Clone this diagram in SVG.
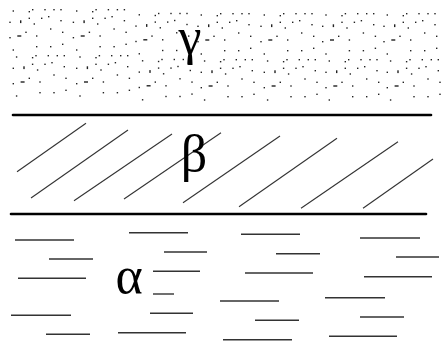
<svg xmlns="http://www.w3.org/2000/svg" xmlns:xlink="http://www.w3.org/1999/xlink" width="441" height="352" viewBox="0 0 441 352">
<style>
.d{fill:#222}
.bound{stroke:#000;stroke-width:2.6;stroke-linecap:round;fill:none}
.hatch{stroke:#333;stroke-width:1.1;fill:none}
.dash{stroke:#333;stroke-width:1.4;fill:none}
.lbl{font-family:"Liberation Serif","Times New Roman",serif;font-size:52px;fill:#000;text-anchor:middle}
</style>
<defs>
<g id="tile">
<rect class="d" x="12.6" y="10.3" width="1.4" height="1.4"/>
<rect class="d" x="28.6" y="11" width="1.4" height="1.4"/>
<rect class="d" x="32" y="9" width="1.4" height="1.4"/>
<rect class="d" x="44.3" y="9" width="1.4" height="1.4"/>
<rect class="d" x="53.3" y="9" width="1.4" height="1.4"/>
<rect class="d" x="60.3" y="9" width="1.4" height="1.4"/>
<rect class="d" x="9.3" y="21.6" width="1.4" height="1.4"/>
<rect class="d" x="20" y="20.3" width="1.4" height="2.8"/>
<rect class="d" x="28.6" y="17.6" width="1.4" height="1.4"/>
<rect class="d" x="33.6" y="23.3" width="1.4" height="1.4"/>
<rect class="d" x="41" y="17.6" width="1.4" height="1.4"/>
<rect class="d" x="48" y="16" width="1.4" height="1.4"/>
<rect class="d" x="60.3" y="20" width="1.4" height="1.4"/>
<rect class="d" x="50" y="28.3" width="1.4" height="1.4"/>
<rect class="d" x="9.3" y="37" width="1.4" height="1.4"/>
<rect class="d" x="17.3" y="35.3" width="4" height="1.4"/>
<rect class="d" x="25.3" y="31.6" width="1.4" height="1.4"/>
<rect class="d" x="36" y="35.3" width="1.4" height="1.4"/>
<rect class="d" x="62" y="31.6" width="1.4" height="1.4"/>
<rect class="d" x="36" y="46" width="1.4" height="1.4"/>
<rect class="d" x="50" y="46" width="1.4" height="1.4"/>
<rect class="d" x="62" y="43.6" width="1.4" height="1.4"/>
<rect class="d" x="12.6" y="49.3" width="1.4" height="1.4"/>
</g>
<g id="band">
<use href="#tile"/>
<use href="#tile" transform="translate(3.3 46)"/>
</g>
</defs>

<g id="gamma-layer">
<use href="#band" transform="translate(0 0)"/>
<use href="#band" transform="translate(63.4 0)"/>
<use href="#band" transform="translate(126 3.8)"/>
<use href="#band" transform="translate(188 4)"/>
<use href="#band" transform="translate(251 4)"/>
<use href="#band" transform="translate(312.7 4)"/>
<use href="#band" transform="translate(374 4)"/>
<text class="lbl" x="190" y="54">γ</text>
</g>

<g id="boundaries">
<line class="bound" x1="13" y1="115" x2="431" y2="115"/>
<line class="bound" x1="11" y1="214" x2="426" y2="214"/>
</g>

<g id="beta-layer">
<line class="hatch" x1="17" y1="171.7" x2="86" y2="123.3"/>
<line class="hatch" x1="31" y1="198" x2="128" y2="130"/>
<line class="hatch" x1="74" y1="200.7" x2="172" y2="134"/>
<line class="hatch" x1="124" y1="199" x2="221" y2="132.7"/>
<line class="hatch" x1="183" y1="202.7" x2="280" y2="136"/>
<line class="hatch" x1="239" y1="206.7" x2="337" y2="138.3"/>
<line class="hatch" x1="301" y1="208.3" x2="398" y2="141.7"/>
<line class="hatch" x1="363" y1="208.3" x2="433" y2="159"/>
<text class="lbl" x="194" y="171">β</text>
</g>

<g id="alpha-layer">
<line class="dash" x1="15" y1="240" x2="74" y2="240"/>
<line class="dash" x1="129" y1="232.7" x2="188" y2="232.7"/>
<line class="dash" x1="241" y1="234.3" x2="300" y2="234.3"/>
<line class="dash" x1="360" y1="238" x2="420" y2="238"/>
<line class="dash" x1="49" y1="259" x2="93" y2="259"/>
<line class="dash" x1="164" y1="252" x2="207" y2="252"/>
<line class="dash" x1="276" y1="253.7" x2="320" y2="253.7"/>
<line class="dash" x1="396" y1="257" x2="439" y2="257"/>
<line class="dash" x1="18" y1="278.3" x2="86" y2="278.3"/>
<line class="dash" x1="153" y1="271.3" x2="200" y2="271.3"/>
<line class="dash" x1="245" y1="273" x2="313" y2="273"/>
<line class="dash" x1="364" y1="276.7" x2="432" y2="276.7"/>
<line class="dash" x1="153" y1="294" x2="174" y2="294"/>
<line class="dash" x1="220" y1="301" x2="279" y2="301"/>
<line class="dash" x1="325" y1="297.7" x2="385" y2="297.7"/>
<line class="dash" x1="11" y1="315.3" x2="71" y2="315.3"/>
<line class="dash" x1="150" y1="313.3" x2="193" y2="313.3"/>
<line class="dash" x1="255" y1="320.3" x2="299" y2="320.3"/>
<line class="dash" x1="360" y1="317" x2="404" y2="317"/>
<line class="dash" x1="46" y1="334.3" x2="90" y2="334.3"/>
<line class="dash" x1="118" y1="332.7" x2="186" y2="332.7"/>
<line class="dash" x1="223" y1="339.7" x2="292" y2="339.7"/>
<line class="dash" x1="329" y1="336.3" x2="397" y2="336.3"/>
<text class="lbl" x="129" y="293">α</text>
</g>
</svg>
